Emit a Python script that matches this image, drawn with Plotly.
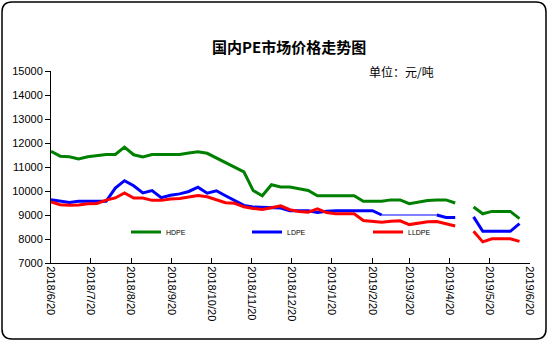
import pandas as pd
import plotly.graph_objects as go

# weekly observation dates (Wednesdays), 2019-05-01 has no data
dates = pd.date_range("2018-06-20", periods=52, freq="7D").strftime("%Y-%m-%d").tolist()

hdpe = [11650, 11450, 11430, 11340, 11430, 11480, 11520, 11520, 11830, 11510,
        11420, 11520, 11520, 11520, 11520, 11580, 11630, 11570, 11380, 11190,
        11000, 10800, 10020, 9800, 10260, 10170, 10170, 10080, 10020, 9800,
        9800, 9800, 9800, 9800, 9570, 9570, 9570, 9630, 9630, 9470,
        9540, 9600, 9630, 9630, 9500, None, 9330, 9050, 9150, 9150,
        9150, 8850]
ldpe = [9640, 9570, 9520, 9570, 9570, 9570, 9570, 10120, 10430, 10220,
        9920, 10020, 9720, 9820, 9880, 9980, 10160, 9910, 10010, 9800,
        9600, 9400, 9330, 9320, 9310, 9290, 9180, 9180, 9180, 9100,
        9160, 9180, 9180, 9180, 9180, 9180, 9000, 9000, 9000, 9000,
        9000, 9000, 9000, 8900, 8900, None, 8920, 8320, 8320, 8320,
        8320, 8640]
lldpe = [9540, 9430, 9410, 9420, 9470, 9480, 9620, 9710, 9920, 9710,
         9710, 9610, 9610, 9670, 9690, 9740, 9810, 9760, 9640, 9510,
         9490, 9340, 9270, 9230, 9300, 9380, 9220, 9150, 9120, 9260,
         9100, 9050, 9050, 9050, 8770, 8720, 8700, 8740, 8760, 8600,
         8670, 8720, 8730, 8620, 8540, None, 8320, 7880, 8010, 8010,
         8010, 7900]

tick_dates = ["2018-06-20", "2018-07-20", "2018-08-20", "2018-09-20", "2018-10-20",
              "2018-11-20", "2018-12-20", "2019-01-20", "2019-02-20", "2019-03-20",
              "2019-04-20", "2019-05-20", "2019-06-20"]
tick_labels = ["2018/6/20", "2018/7/20", "2018/8/20", "2018/9/20", "2018/10/20",
               "2018/11/20", "2018/12/20", "2019/1/20", "2019/2/20", "2019/3/20",
               "2019/4/20", "2019/5/20", "2019/6/20"]
y_ticks = [7000, 8000, 9000, 10000, 11000, 12000, 13000, 14000, 15000]
y_labels = ["7000", "8000", "9000", "10000", "11000", "12000", "13000", "14000", "15000"]

W, H = 550, 344
L, R, T, B = 51, 20, 71, 81
PW, PH = W - L - R, H - T - B


def px(x):
    return (x - L) / PW


def py(y):
    return (H - B - y) / PH


# in the source image the LDPE line is drawn thin over a stretch of weeks
THIN_FROM, THIN_TO = 36, 42
ldpe_thick = [None if THIN_FROM < i < THIN_TO else v for i, v in enumerate(ldpe)]
ldpe_thin = [v if THIN_FROM <= i <= THIN_TO else None for i, v in enumerate(ldpe)]

fig = go.Figure()
fig.add_trace(go.Scatter(x=dates, y=hdpe, name="HDPE", mode="lines",
                         line=dict(color="#008000", width=3), connectgaps=False))
fig.add_trace(go.Scatter(x=dates, y=ldpe_thick, name="LDPE", mode="lines",
                         line=dict(color="#0000FF", width=3), connectgaps=False))
fig.add_trace(go.Scatter(x=dates, y=ldpe_thin, name="LDPE", mode="lines", showlegend=False,
                         line=dict(color="#0000FF", width=1), connectgaps=False))
fig.add_trace(go.Scatter(x=dates, y=lldpe, name="LLDPE", mode="lines",
                         line=dict(color="#FF0000", width=3), connectgaps=False))

# rounded border of chart area
x0, y0, x1, y1, r = 2, 2, 546, 339, 10
pts = [
    f"M {px(x0 + r)},{py(y0)}",
    f"L {px(x1 - r)},{py(y0)}",
    f"Q {px(x1)},{py(y0)} {px(x1)},{py(y0 + r)}",
    f"L {px(x1)},{py(y1 - r)}",
    f"Q {px(x1)},{py(y1)} {px(x1 - r)},{py(y1)}",
    f"L {px(x0 + r)},{py(y1)}",
    f"Q {px(x0)},{py(y1)} {px(x0)},{py(y1 - r)}",
    f"L {px(x0)},{py(y0 + r)}",
    f"Q {px(x0)},{py(y0)} {px(x0 + r)},{py(y0)}",
    "Z",
]
fig.add_shape(type="path", xref="paper", yref="paper", path=" ".join(pts),
              line=dict(color="black", width=1.5), fillcolor="rgba(0,0,0,0)", layer="above")

fig.add_annotation(text="<b>国内PE市场价格走势图</b>", xref="paper", yref="paper",
                   x=px(289), y=py(46), showarrow=False, xanchor="center", yanchor="middle",
                   font=dict(family="Noto Sans CJK SC", size=15, color="black"))
fig.add_annotation(text="单位：元/吨", xref="paper", yref="paper",
                   x=px(367), y=py(71), showarrow=False, xanchor="left", yanchor="middle",
                   font=dict(family="Noto Sans CJK SC", size=12, color="black"))

fig.update_layout(
    width=W, height=H,
    margin=dict(l=L, r=R, t=T, b=B, pad=0),
    paper_bgcolor="white", plot_bgcolor="white",
    showlegend=True,
    legend=dict(orientation="h", x=px(126), y=py(232), xanchor="left", yanchor="middle",
                entrywidth=76, entrywidthmode="pixels",
                font=dict(family="Liberation Sans", size=7, color="black"),
                bgcolor="rgba(0,0,0,0)", itemwidth=30, tracegroupgap=0),
    font=dict(family="Liberation Sans", size=11, color="black"),
)
fig.update_xaxes(type="date", range=["2018-06-20", "2019-06-20"],
                 tickvals=tick_dates, ticktext=tick_labels, tickangle=90,
                 ticks="inside", ticklen=5, tickcolor="black", showline=True,
                 linecolor="black", linewidth=1, showgrid=False, zeroline=False,
                 tickfont=dict(family="Liberation Sans", size=11, color="black"))
fig.update_yaxes(range=[7000, 15000], tickvals=y_ticks, ticktext=y_labels,
                 ticks="outside", ticklen=5,
                 tickcolor="black", showline=True, linecolor="black", linewidth=1,
                 showgrid=False, zeroline=False,
                 tickfont=dict(family="Liberation Sans", size=11, color="black"))

fig.write_html("out.html")
